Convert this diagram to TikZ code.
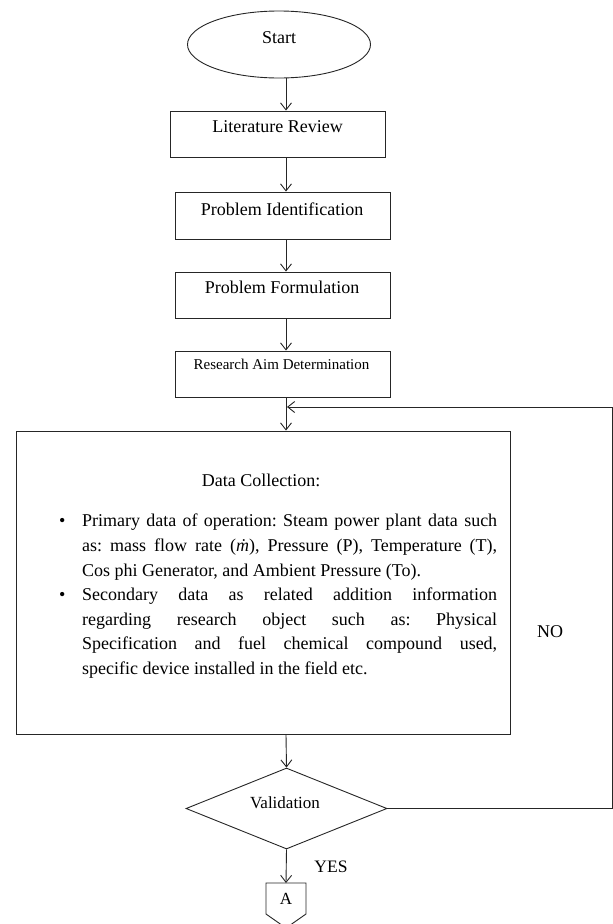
\documentclass[tikz,border=0pt]{standalone}
\usepackage{fontspec}
\setmainfont{Liberation Serif}
\usetikzlibrary{shapes.geometric,arrows.meta}
\frenchspacing
\begin{document}
\begin{tikzpicture}[x=1pt,y=-1pt,
  line/.style={draw=black!85,line width=0.9pt},
  arr/.style={line,-{Straight Barb[length=7pt,width=11pt,line width=0.9pt]}},
  box/.style={line,rectangle,inner sep=0pt,minimum width=215pt,minimum height=46pt},
  lbl/.style={font=\fontsize{18}{20}\selectfont,inner sep=0pt,text=black},
  slbl/.style={font=\fontsize{15}{17}\selectfont,inner sep=0pt,text=black}]
\useasboundingbox[fill=white] (0,0) rectangle (613,924);
\coordinate (axis) at (286,0);
% shapes
\node[line,ellipse,minimum width=183pt,minimum height=67pt,inner sep=0pt] (start) at (279,44.5) {};
\node[lbl] (tstart) at (279,38) {Start};
\node[box] (b1) at (277.5,134) {};
\node[lbl] (t1) at (277.5,127) {Literature Review};
\node[box,minimum width=215pt,minimum height=47pt] (b2) at (282.5,215.5) {};
\node[lbl] (t2) at (282,209) {Problem Identification};
\node[box,minimum width=215pt] (b3) at (282.5,295) {};
\node[lbl] (t3) at (282,287) {Problem Formulation};
\node[box,minimum width=215pt] (b4) at (282.5,374) {};
\node[slbl] (t4) at (281.5,364) {Research Aim Determination};
\node[line,rectangle,inner sep=0pt,minimum width=494pt,minimum height=303pt] (dc) at (263,582.5) {};
\node[lbl] (tdc) at (261,480) {Data Collection:};
\node[anchor=north west,text width=438pt,align=justify,inner sep=0pt,text=black] (list) at (59,514) {%
\fontsize{18}{24.6}\selectfont \hbadness=10000 \frenchspacing
\hangindent=23pt \hangafter=1 \noindent\makebox[23pt][l]{\textbullet}Primary data of operation: Steam power plant data such as: mass flow rate (\textit{\.{m}}), Pressure (P), Temperature (T),\linebreak Cos phi Generator, and Ambient Pressure (To).\par
\hangindent=23pt \hangafter=1 \noindent\makebox[23pt][l]{\textbullet}Secondary data as related addition information\linebreak regarding research object such as: Physical\linebreak Specification and fuel chemical compound used,\linebreak specific device installed in the field etc.\par};
\node[line,diamond,aspect=2.48,minimum width=201pt,minimum height=81pt,inner sep=0pt] (val) at (286.5,808.5) {};
\node[lbl,font=\fontsize{17}{19}\selectfont] (tval) at (285,803) {Validation};
\node[lbl] (no) at (550,632) {NO};
\node[lbl,font=\fontsize{17.5}{19}\selectfont] (yes) at (331,867) {YES};
\node[lbl,font=\fontsize{17}{19}\selectfont] (A) at (286,899) {A};
\coordinate (atop) at (286,883);
\draw[line] (266,883) -- (306,883) -- (306,914) -- (286,928) -- (266,914) -- cycle;
% connectors
\draw[arr] (start.south -| axis) -- (b1.north -| axis);
\draw[arr] (b1.south -| axis) -- (b2.north -| axis);
\draw[arr] (b2.south -| axis) -- (b3.north -| axis);
\draw[arr] (b3.south -| axis) -- (b4.north -| axis);
\draw[arr] (b4.south -| axis) -- (dc.north -| axis);
\draw[arr] (dc.south -| axis) -- (val.north);
\draw[arr] (val.south) -- (atop);
\coordinate (fbR) at (612,808.5);
\coordinate (fbT) at (612,407);
\coordinate (fbE) at (287,407);
\draw[arr] (val.east) -- (fbR) -- (fbT) -- (fbE);
\end{tikzpicture}
\end{document}
